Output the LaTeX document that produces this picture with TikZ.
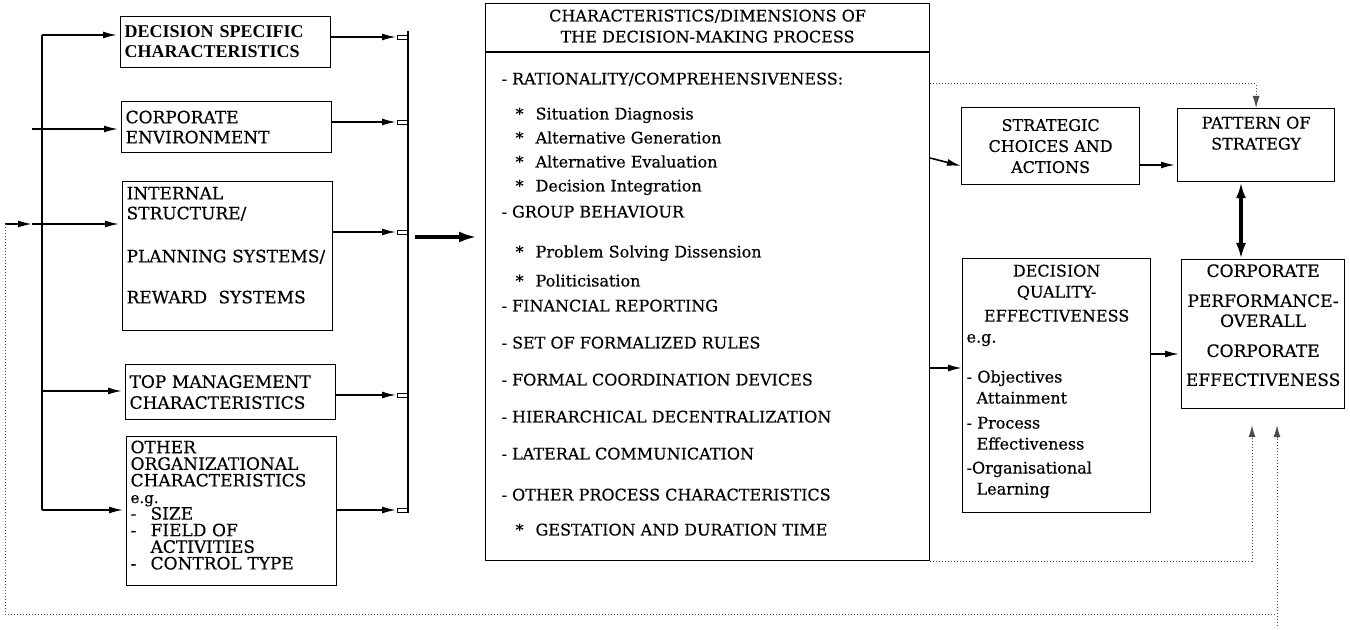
\documentclass[tikz,border=0pt]{standalone}
\usepackage{fontspec}
\setmainfont{DejaVu Serif}[FakeBold=0.4]
\newfontfamily\boxonefont{Liberation Serif}
\usetikzlibrary{arrows.meta}
\newcommand\padbelow[1]{\rule[-#1]{0pt}{#1}}
\newcommand\bul{\hspace*{7pt}\makebox[10pt][l]{*}}
\newcommand\dashitem{\makebox[10pt][l]{-}}

\begin{document}
\begin{tikzpicture}[x=0.5pt, y=-0.5pt,
    every node/.style = {inner sep=2pt, line width=0.6pt},
    factor/.style = {draw, anchor=north west, align=left, text width=101pt,
      font=\fontsize{8.5}{10}\selectfont},
    result/.style = {draw, anchor=north west, align=center,
      font=\fontsize{8}{10.5}\selectfont},
    arr/.style = {-{Latex[length=7pt,width=3.5pt]}, line width=0.8pt},
    bigarr/.style = {-{Latex[length=9pt,width=5.5pt]}, line width=1.8pt},
    fb/.style = {densely dotted, line width=0.5pt, black!70}]
  \useasboundingbox (0,0) rectangle (1350,630);

  \node[factor, minimum height=25.5pt,
    font=\boxonefont\bfseries\fontsize{9}{10}\selectfont] (dsc) at (120,16)
    {DECISION SPECIFIC\\CHARACTERISTICS};
  \node[factor, minimum height=25.5pt] (env) at (121,101)
    {CORPORATE\\ENVIRONMENT};
  \node[factor, minimum height=74.5pt] (isp) at (122,181)
    {INTERNAL\\STRUCTURE/\\[11.5pt]PLANNING SYSTEMS/\\[10.5pt]REWARD\ \ SYSTEMS\padbelow{11pt}};
  \node[factor, minimum height=27.5pt, font=\fontsize{8.5}{10.5}\selectfont] (tmc) at (125,364)
    {TOP MANAGEMENT\\CHARACTERISTICS};
  \node[factor, minimum height=73.5pt, font=\fontsize{8.5}{8.3}\selectfont] (ooc) at (126,436)
    {OTHER\\ORGANIZATIONAL\\CHARACTERISTICS\\{\fontsize{7.5}{8.3}\selectfont e.g.}\\
     \dashitem SIZE\\\dashitem FIELD OF\\\hspace*{10pt}ACTIVITIES\\\dashitem CONTROL TYPE\padbelow{6pt}};

  \node[draw, anchor=north west, minimum width=222pt, minimum height=278.5pt] (proc) at (485,3) {};
  \node[anchor=north, align=center, font=\fontsize{8}{10.5}\selectfont] (ptitle) at ([yshift=-1pt]proc.north)
    {CHARACTERISTICS/DIMENSIONS OF\\THE DECISION-MAKING PROCESS};
  \draw[line width=0.6pt] (proc.west |- 0,52) -- (proc.east |- 0,52);
  \node[anchor=north west, align=left, font=\fontsize{8}{12}\selectfont] (plist) at (497,68)
    {- RATIONALITY/COMPREHENSIVENESS:\\[5.5pt]
     \bul Situation Diagnosis\\
     \bul Alternative Generation\\
     \bul Alternative Evaluation\\
     \bul Decision Integration\\[1pt]
     - GROUP BEHAVIOUR\\[8pt]
     \bul Problem Solving Dissension\\[2.5pt]
     \bul Politicisation\\[0.5pt]
     - FINANCIAL REPORTING\\[6.5pt]
     - SET OF FORMALIZED RULES\\[6.5pt]
     - FORMAL COORDINATION DEVICES\\[6.5pt]
     - HIERARCHICAL DECENTRALIZATION\\[6.5pt]
     - LATERAL COMMUNICATION\\[8.5pt]
     - OTHER PROCESS CHARACTERISTICS\\[5.5pt]
     \bul GESTATION AND DURATION TIME};

  \node[result, minimum width=89pt, minimum height=38.5pt] (stc) at (961,107)
    {STRATEGIC\\CHOICES AND\\ACTIONS};
  \node[result, minimum width=78.5pt, minimum height=36.5pt] (pos) at (1177,108)
    {PATTERN OF\\STRATEGY\padbelow{12pt}};
  \node[draw, anchor=north west, text width=90pt, minimum height=127pt,
    font=\fontsize{8}{10.5}\selectfont] (dq) at (962,258)
    {\centering DECISION\\QUALITY-\\[1.5pt]EFFECTIVENESS\par\raggedright
     e.g.\\[9.5pt]
     - Objectives\\\hspace*{5pt}Attainment\\[2pt]
     - Process\\\hspace*{5pt}Effectiveness\\[1.5pt]
     -Organisational\\\hspace*{5pt}Learning\padbelow{6pt}};
  \node[result, minimum width=81.5pt, minimum height=74.5pt,
    font=\fontsize{8.5}{10}\selectfont] (cp) at (1181,259)
    {CORPORATE\\[5pt]PERFORMANCE-\\OVERALL\\[5pt]CORPORATE\\[4.5pt]EFFECTIVENESS\padbelow{9pt}};

  \coordinate (bustop) at (42,35);
  \coordinate (busbot) at (42,510);
  \coordinate (in2) at (32,129);
  \coordinate (in3) at (32,224);
  \coordinate (in4) at (42,391);
  \coordinate (fbleft) at (5,224);
  \coordinate (coltop) at (408,31);
  \coordinate (colbot) at (408,513);
  \coordinate (colout) at (415,237);
  \coordinate (fbcorner) at (1277,614);
  \coordinate (fbbot) at (1277,626);

  \draw[line width=0.7pt] (bustop) -- (busbot);
  \draw[arr, shorten >=1.5pt] (bustop) -- (dsc.west |- bustop);
  \draw[arr, shorten >=1.5pt] (in2) -- (env.west |- in2);
  \draw[arr, shorten >=1.5pt] (in3) -- (isp.west |- in3);
  \draw[arr, shorten >=1.5pt] (in4) -- (tmc.west |- in4);
  \draw[arr, shorten >=1.5pt] (busbot) -- (ooc.west |- busbot);
  \draw[arr] (fbleft) -- (in3);

  \draw[line width=0.7pt] (coltop) -- (colbot);
  \foreach \b/\y in {dsc/37, env/122, isp/232, tmc/395, ooc/510} {
    \draw[arr, shorten >=6pt] (\b.east |- 0,\y) -- (coltop |- 0,\y);
    \draw[line width=0.4pt] (397,\y-2) rectangle (408,\y+2);
  }
  \draw[bigarr, shorten >=4pt] (colout) -- (proc.west |- colout);

  \draw[arr] (proc.east |- 0,158) -- (stc.west |- 0,166);
  \draw[arr, shorten >=1pt] (stc.east |- 0,165) -- (pos.west |- 0,165);
  \draw[arr] (proc.east |- 0,368) -- (dq.west |- 0,368);
  \draw[arr, shorten >=1pt] (dq.east |- 0,354) -- (cp.west |- 0,354);
  \draw[{Latex[length=8pt,width=5pt]}-{Latex[length=8pt,width=5pt]}, line width=1.8pt]
    (pos.south -| 1241,0) -- (cp.north -| 1241,0);

  \draw[fb, -{Latex[length=6pt,width=3.5pt]}] (proc.east |- 0,84) -| (pos.north);
  \draw[fb, -{Latex[length=6pt,width=3.5pt]}, shorten >=8pt] (proc.south east) -| (cp.south -| 1252,0);
  \draw[fb] (fbleft) |- (fbcorner);
  \draw[fb, -{Latex[length=6pt,width=3.5pt]}, shorten >=8pt] (fbbot) -- (cp.south -| fbbot);
\end{tikzpicture}
\end{document}
